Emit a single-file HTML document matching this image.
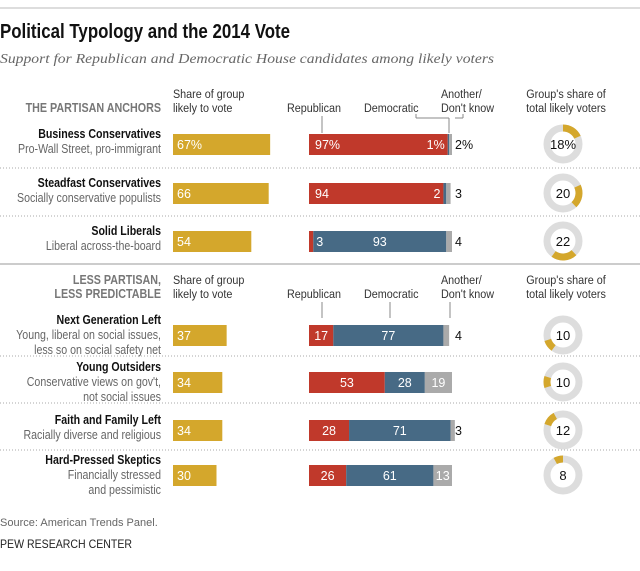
<!DOCTYPE html>
<html><head><meta charset="utf-8"><style>
body{margin:0;background:#fff}
svg{display:block;font-family:"Liberation Sans",sans-serif}
</style></head><body>
<svg id="c" width="640" height="571" viewBox="0 0 640 571">
<line x1="0" y1="8" x2="640" y2="8" stroke="#bbb"/>
<text x="0" y="38" font-size="20" font-weight="bold" fill="#111" textLength="290" lengthAdjust="spacingAndGlyphs">Political Typology and the 2014 Vote</text>
<text x="0" y="63" font-size="14" font-style="italic" font-family="Liberation Serif,serif" fill="#666" textLength="494" lengthAdjust="spacingAndGlyphs">Support for Republican and Democratic House candidates among likely voters</text>
<line x1="0" y1="264" x2="640" y2="264" stroke="#999"/>
<text x="0" y="526" font-size="11" fill="#666">Source: American Trends Panel.</text>
<text x="0" y="548" font-size="12" fill="#222" textLength="132" lengthAdjust="spacingAndGlyphs">PEW RESEARCH CENTER</text>
<g id="g"></g>
</svg>
<script>
const groups=["Business Conservatives","Steadfast Conservatives","Solid Liberals","Next Generation Left","Young Outsiders","Faith and Family Left","Hard-Pressed Skeptics"];
const subs=[["Pro-Wall Street, pro-immigrant"],["Socially conservative populists"],["Liberal across-the-board"],["Young, liberal on social issues,","less so on social safety net"],["Conservative views on gov't,","not social issues"],["Racially diverse and religious"],["Financially stressed","and pessimistic"]];
const likely=[67,66,54,37,34,34,30];
const rep=[97,94,3,17,53,28,26];
const dem=[1,2,93,77,28,71,61];
const oth=[2,3,4,4,19,3,13];
const share=[18,20,22,10,10,12,8];
const rowY=[134,183,231,325,372,420,465];
const g=document.getElementById('g');
const NS='http://www.w3.org/2000/svg';
function el(t,a,txt){const e=document.createElementNS(NS,t);for(const k in a)e.setAttribute(k,a[k]);if(txt!=null)e.textContent=txt;g.appendChild(e);return e;}
function cond(e,x,k){e.setAttribute('transform',`translate(${x},0) scale(${k},1) translate(${-x},0)`);}
const lx=x=>173+x*1.45, vx=v=>309+v*1.43;
function headers(y,t1,t2){
  const ty=t2?y-2:y+12;
  let h=el('text',{x:161,y:ty,'font-size':12.5,'font-weight':'bold',fill:'#777','text-anchor':'end'},t1);
  
  
  cond(h,161,0.86);
  if(t2){h=el('text',{x:161,y:y+12,'font-size':12.5,'font-weight':'bold',fill:'#777','text-anchor':'end'},t2);
  
  
  cond(h,161,0.86);}
  const hs=[[173,y-2,'Share of group','start'],[173,y+12,'likely to vote','start'],[287,y+12,'Republican','start'],[364,y+12,'Democratic','start'],[441,y-2,'Another/','start'],[441,y+12,"Don't know",'start'],[566,y-2,"Group's share of",'middle'],[566,y+12,'total likely voters','middle']];
  hs.forEach(s=>{const e=el('text',{x:s[0],y:s[1],'font-size':12,fill:'#333','text-anchor':s[3]},s[2]);
    
    
    cond(e,s[0],0.9);});
}
headers(100,'THE PARTISAN ANCHORS',null);
headers(286,'LESS PARTISAN,','LESS PREDICTABLE');
[[322,116,322,133],[416,114,416,118],[416,118,449,118],[449,118,449,133],[463,118,463,114],[455,118,463,118],[322,302,322,318],[390,302,390,318],[450,302,450,318]].forEach(l=>{
  const e=el('line',{x1:l[0],y1:l[1],x2:l[2],y2:l[3],stroke:'#888'});
  
  });
[168,216,356,403,450].forEach(y=>{const e=el('line',{x1:0,y1:y,x2:640,y2:y,stroke:'#aaa','stroke-dasharray':'1,2'});
  
  });
let cum=0;
groups.forEach((n,i)=>{
  const y=rowY[i], h=21, pct=i==0?'%':'';
  const nl=subs[i].length;
  let t=el('text',{x:161,y:y+(nl>1?-1:4),'font-size':12.5,'font-weight':'bold',fill:'#111','text-anchor':'end'},n);
  
  
  cond(t,161,0.85);
  subs[i].forEach((s,k)=>{const e=el('text',{x:161,y:y+(nl>1?14:19)+k*15,'font-size':12.5,fill:'#666','text-anchor':'end'},s);
    
    
    cond(e,161,0.85);});
  let b=el('rect',{x:lx(0),y:y,width:lx(likely[i])-lx(0),height:h,fill:'#d4a72c'});
  
  
  t=el('text',{x:lx(0)+4,y:y+15,'font-size':12.5,fill:'#fff'},likely[i]+pct);
  
  
  const segs=[[rep[i],'#c0392b','rep'],[dem[i],'#476a85','dem'],[oth[i],'#aaaaaa','other']];
  let s0=0;
  segs.forEach(sg=>{const r=el('rect',{x:vx(s0),y:y,width:vx(s0+sg[0])-vx(s0),height:h,fill:sg[1]});
    
    
    s0+=sg[0];});
  const lbl=(v,x,anchor,col)=>{const e=el('text',{x:x,y:y+15,'font-size':12.5,fill:col,'text-anchor':anchor},v+pct);
    
    };
  if(rep[i]>=10)lbl(rep[i],rep[i]>80?vx(0)+6:(vx(0)+vx(rep[i]))/2,rep[i]>80?'start':'middle','#fff');
  else lbl(rep[i],vx(rep[i])+3,'start','#fff');
  if(dem[i]>=10)lbl(dem[i],(vx(rep[i])+vx(rep[i]+dem[i]))/2,'middle','#fff');
  else lbl(dem[i],vx(rep[i])-3,'end','#fff');
  if(oth[i]>=10)lbl(oth[i],(vx(rep[i]+dem[i])+vx(100))/2,'middle','#fff');
  else lbl(oth[i],vx(100)+3,'start','#111');
  const cx=563, cy=y+10, r=16;
  const c=el('circle',{cx:cx,cy:cy,r:r,fill:'none',stroke:'#ddd','stroke-width':7});
  
  
  const a0=cum/100*2*Math.PI, a1=(cum+share[i])/100*2*Math.PI;
  const p=(a)=>[cx+r*Math.sin(a),cy-r*Math.cos(a)];
  const [x0,y0]=p(a0),[x1,y1]=p(a1);
  const arc=el('path',{d:`M${x0},${y0}A${r},${r} 0 ${share[i]>50?1:0} 1 ${x1},${y1}`,fill:'none',stroke:'#d4a72c','stroke-width':7});
  
  
  cum+=share[i];
  t=el('text',{x:cx,y:cy+5,'font-size':13,fill:'#111','text-anchor':'middle'},share[i]+pct);
  
  
});
</script>
</body></html>
